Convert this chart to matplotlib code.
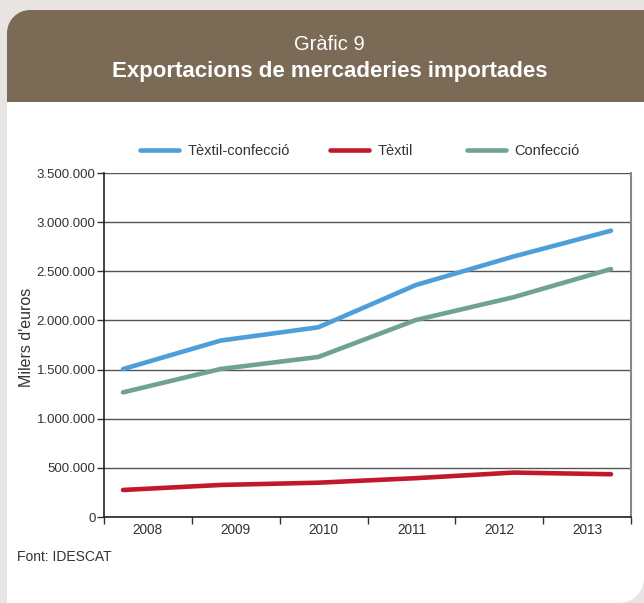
import matplotlib
matplotlib.use("Agg")
import matplotlib.pyplot as plt
from matplotlib.path import Path
from matplotlib.patches import PathPatch
from matplotlib.ticker import FuncFormatter

years = ["2008", "2009", "2010", "2011", "2012", "2013"]
textil_confeccio = [1505000, 1795000, 1930000, 2360000, 2650000, 2913000]
textil = [275000, 326000, 349000, 395000, 452000, 435000]
confeccio = [1268000, 1506000, 1628000, 2004000, 2236000, 2523000]
series_names = ["Tèxtil-confecció", "Tèxtil", "Confecció"]
colors = ["#4e9fd9", "#c1182d", "#6fa38e"]
yticks = [0, 500000, 1000000, 1500000, 2000000, 2500000, 3000000, 3500000]

plt.rcParams['font.family'] = ['Liberation Sans', 'DejaVu Sans']

W, H = 644, 603
fig = plt.figure(figsize=(W / 100, H / 100), dpi=100)
fig.patch.set_facecolor("#e8e4e1")

# background panel and header in pixel coordinates
bg = fig.add_axes([0, 0, 1, 1])
bg.set_xlim(0, W)
bg.set_ylim(H, 0)
bg.axis("off")
bg.set_zorder(-10)
r = 23
k = 0.5523 * r
x0, y0, x1, y1 = 7, 10, W, H
rb = 25
kb = 0.5523 * rb
verts = [(x0, y1), (x0, y0 + r), (x0, y0 + r - k), (x0 + r - k, y0), (x0 + r, y0),
         (x1, y0), (x1, y1 - rb), (x1, y1 - rb + kb), (x1 - rb + kb, y1), (x1 - rb, y1),
         (x0, y1), (x0, y1)]
codes = [Path.MOVETO, Path.LINETO, Path.CURVE4, Path.CURVE4, Path.CURVE4,
         Path.LINETO, Path.LINETO, Path.CURVE4, Path.CURVE4, Path.CURVE4,
         Path.LINETO, Path.CLOSEPOLY]
bg.add_patch(PathPatch(Path(verts, codes), facecolor="white", edgecolor="none"))
hy = 102
hverts = [(x0, hy), (x0, y0 + r), (x0, y0 + r - k), (x0 + r - k, y0), (x0 + r, y0),
          (x1, y0), (x1, hy), (x0, hy), (x0, hy)]
hcodes = [Path.MOVETO, Path.LINETO, Path.CURVE4, Path.CURVE4, Path.CURVE4,
          Path.LINETO, Path.LINETO, Path.LINETO, Path.CLOSEPOLY]
bg.add_patch(PathPatch(Path(hverts, hcodes), facecolor="#7b6a56", edgecolor="none"))
bg.text(329, 44, "Gràfic 9", color="white", fontsize=14.5, ha="center", va="center")
bg.text(330, 71, "Exportacions de mercaderies importades", color="white", fontsize=16,
        fontweight="bold", ha="center", va="center")
bg.text(17, 557, "Font: IDESCAT", color="#333333", fontsize=10, ha="left", va="center")

# main axes
left, right, top, bottom = 104, 631, 173, 517
ax = fig.add_axes([left / W, 1 - bottom / H, (right - left) / W, (bottom - top) / H])
ax.set_facecolor("white")
ax.set_xlim(0, len(years))
ax.set_ylim(0, 3500000)
ax.set_yticks(yticks)
ax.yaxis.set_major_formatter(FuncFormatter(lambda v, p: f"{int(v):,}".replace(",", ".")))
ax.yaxis.grid(True, color="#555555", linewidth=1.0)
ax.set_axisbelow(True)
ax.set_xticks(range(len(years) + 1))
ax.set_xticklabels([])
ax.set_xticks([i + 0.5 for i in range(len(years))], minor=True)
ax.set_xticklabels(years, minor=True)
ax.tick_params(axis="x", which="minor", length=0, pad=4, labelsize=9.8, labelcolor="#333333")
ax.tick_params(axis="x", which="major", length=5, width=1, color="#333333", direction="out")
ax.tick_params(axis="y", length=5, width=1, color="#333333", labelsize=9.5, labelcolor="#333333", pad=1)
for s in ["left", "bottom"]:
    ax.spines[s].set_color("#222222")
    ax.spines[s].set_linewidth(1.2)
ax.spines["top"].set_visible(False)
ax.spines["right"].set_color("#888888")
ax.spines["right"].set_linewidth(1.5)
ax.set_ylabel("Milers d'euros", fontsize=11.5, color="#333333")
ax.yaxis.set_label_coords((34 - left) / (right - left), (bottom - 337) / (bottom - top))

# lines on a twin x-axis (points spread wider than the category labels)
lx = ax.twiny()
lx.set_xlim(-0.195, len(years) - 1 + 0.205)
lx.axis("off")
idx = list(range(len(years)))
handles = []
for vals, name, c in zip([textil_confeccio, textil, confeccio], series_names, colors):
    h, = lx.plot(idx, vals, color=c, linewidth=3.3, solid_capstyle="round", label=name)
    handles.append(h)
lx.set_ylim(0, 3500000)

# legend entries placed individually, as in the reference
leg_x = [140, 330, 467]
for h, name, lxp in zip(handles, series_names, leg_x):
    fig.legend(handles=[h], labels=[name], loc="center left",
               bbox_to_anchor=(lxp / W, 1 - 151 / H), frameon=False, fontsize=10.5,
               handlelength=2.7, handletextpad=0.55, borderpad=0, borderaxespad=0,
               labelcolor="#333333")

fig.savefig("out.png", dpi=100, facecolor=fig.get_facecolor())
